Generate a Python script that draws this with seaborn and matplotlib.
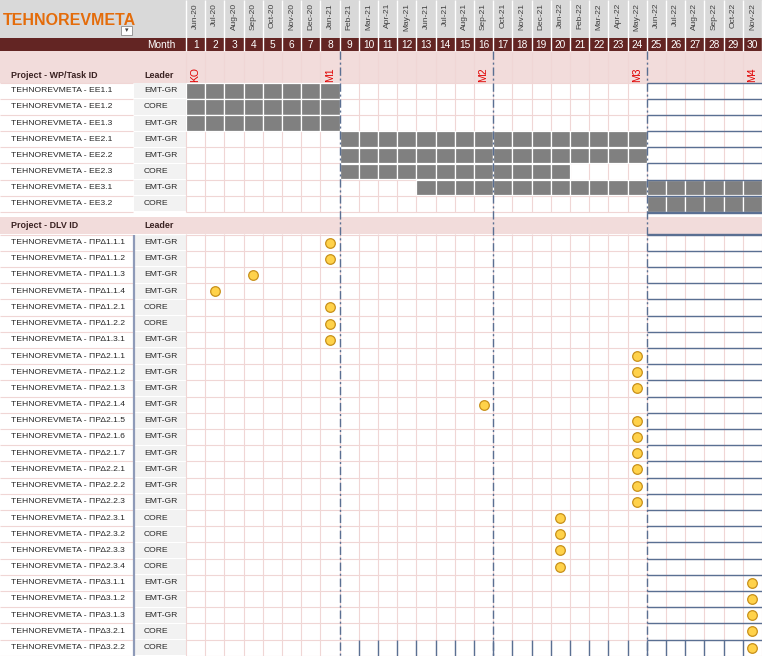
import numpy as np
import pandas as pd
import matplotlib
matplotlib.use("Agg")
import matplotlib.pyplot as plt
from matplotlib.patches import Rectangle
import seaborn as sns

# ---------------- data ----------------
project = "TEHNOREVMETA"
months = ["Jun-20", "Jul-20", "Aug-20", "Sep-20", "Oct-20", "Nov-20", "Dec-20", "Jan-21",
          "Feb-21", "Mar-21", "Apr-21", "May-21", "Jun-21", "Jul-21", "Aug-21", "Sep-21",
          "Oct-21", "Nov-21", "Dec-21", "Jan-22", "Feb-22", "Mar-22", "Apr-22", "May-22",
          "Jun-22", "Jul-22", "Aug-22", "Sep-22", "Oct-22", "Nov-22"]
month_numbers = list(range(1, 31))

wp_ids = ["EE1.1", "EE1.2", "EE1.3", "EE2.1", "EE2.2", "EE2.3", "EE3.1", "EE3.2"]
wp_leaders = ["EMT-GR", "CORE", "EMT-GR", "EMT-GR", "EMT-GR", "CORE", "EMT-GR", "CORE"]
wp_start = [1, 1, 1, 9, 9, 9, 13, 25]
wp_end = [8, 8, 8, 24, 24, 20, 30, 30]

dlv_ids = ["ΠΡΔ1.1.1", "ΠΡΔ1.1.2", "ΠΡΔ1.1.3", "ΠΡΔ1.1.4", "ΠΡΔ1.2.1", "ΠΡΔ1.2.2", "ΠΡΔ1.3.1",
           "ΠΡΔ2.1.1", "ΠΡΔ2.1.2", "ΠΡΔ2.1.3", "ΠΡΔ2.1.4", "ΠΡΔ2.1.5", "ΠΡΔ2.1.6", "ΠΡΔ2.1.7",
           "ΠΡΔ2.2.1", "ΠΡΔ2.2.2", "ΠΡΔ2.2.3", "ΠΡΔ2.3.1", "ΠΡΔ2.3.2", "ΠΡΔ2.3.3", "ΠΡΔ2.3.4",
           "ΠΡΔ3.1.1", "ΠΡΔ3.1.2", "ΠΡΔ3.1.3", "ΠΡΔ3.2.1", "ΠΡΔ3.2.2"]
dlv_leaders = ["EMT-GR", "EMT-GR", "EMT-GR", "EMT-GR", "CORE", "CORE", "EMT-GR",
               "EMT-GR", "EMT-GR", "EMT-GR", "EMT-GR", "EMT-GR", "EMT-GR", "EMT-GR",
               "EMT-GR", "EMT-GR", "EMT-GR", "CORE", "CORE", "CORE", "CORE",
               "EMT-GR", "EMT-GR", "EMT-GR", "CORE", "CORE"]
dlv_month = [8, 8, 4, 2, 8, 8, 8, 24, 24, 24, 16, 24, 24, 24, 24, 24, 24, 20, 20, 20, 20,
             30, 30, 30, 30, 30]

milestones = ["KO", "M1", "M2", "M3", "M4"]
milestone_month = [1, 8, 16, 24, 30]

# ---------------- style / layout ----------------
sns.set_theme(style="white")
FONT = ["Liberation Sans Narrow", "Liberation Sans", "DejaVu Sans"]
plt.rcParams["font.family"] = FONT

W, H = 762, 656
X0, COLW = 186.0, 19.2          # month grid origin / column width (px)
def px(x):                      # pixel -> month axis units
    return (x - X0) / COLW

HDR_GRAY = (0, 37.5)
HDR_DARK = (37.5, 51)
HDR_PINK = (51, 82.7)
WP_TOP, WP_H = 82.7, 16.15
DLVH = (216.8, 233.6)
DLV_TOP, DLV_H = 234.5, 16.2

PINK = "#f2dcdb"
GRIDPINK = "#f0d6d5"
DARK = "#632523"
GRAYHDR = "#d9d9d9"
TXT = "#262626"
BLUE = "#5a6f92"
ROWFS = 6.1

fig = plt.figure(figsize=(W / 100, H / 100), dpi=100)
ax = fig.add_axes([0, 0, 1, 1])
ax.set_xlim(px(0), 30)
ax.set_ylim(H, 0)
ax.axis("off")

def band(x0, x1, y0, y1, color, z=0, **kw):
    ax.add_patch(Rectangle((x0, y0), x1 - x0, y1 - y0, facecolor=color, edgecolor="none", zorder=z, **kw))

L, R = px(0), 30
# header bands
band(L, R, *HDR_GRAY, GRAYHDR)
band(L, R, *HDR_DARK, DARK)
band(L, R, *HDR_PINK, PINK)
band(L, R, *DLVH, PINK)

n_wp, n_dlv = len(wp_ids), len(dlv_ids)
wp_tops = WP_TOP + WP_H * np.arange(n_wp)
dlv_tops = DLV_TOP + DLV_H * np.arange(n_dlv)

# leader column background
for t in wp_tops:
    band(px(134), px(185.5), t + 0.5, t + WP_H - 0.5, "#f2f2f2", z=0.5)
for t in dlv_tops:
    band(px(134), px(185.5), t + 0.5, t + DLV_H - 0.5, "#f2f2f2", z=0.5)

# grid lines (pink)
bounds = np.arange(0, 31)
ax.vlines(bounds, HDR_PINK[0], WP_TOP + n_wp * WP_H, color=GRIDPINK, lw=0.8, zorder=1)
ax.vlines(bounds, DLVH[1], H, color=GRIDPINK, lw=0.8, zorder=1)
wp_b = np.append(wp_tops, wp_tops[-1] + WP_H)
dlv_b = np.append(dlv_tops, dlv_tops[-1] + DLV_H)
ax.hlines(wp_b, px(0), px(133), color=GRIDPINK, lw=0.8, zorder=1)
ax.hlines(wp_b, 0, 30, color=GRIDPINK, lw=0.8, zorder=1)
ax.hlines(dlv_b, px(0), px(133), color=GRIDPINK, lw=0.8, zorder=1)
ax.hlines(dlv_b, 0, 30, color=GRIDPINK, lw=0.8, zorder=1)

# header separators
ax.vlines(bounds, HDR_GRAY[0], HDR_DARK[1], color="white", lw=1.0, zorder=2)

# title
ax.text(px(3), 20.5, project, color="#e46c0a", fontsize=11.5, fontweight="bold",
        ha="left", va="center", zorder=3)
ax.add_patch(Rectangle((px(121), 26), px(132) - px(121), 9, facecolor="white",
                       edgecolor="#8c8c8c", lw=0.6, zorder=3))
ax.text(px(126.5), 30.5, "▾", fontsize=5, ha="center", va="center", color="#404040",
        family=["DejaVu Sans"], zorder=4)

# month labels
for m, lab in zip(month_numbers, months):
    ax.text(m - 0.5, 3, lab, rotation=90, ha="center", va="top", fontsize=6.0,
            color="#404040", zorder=3)
    ax.text(m - 0.5, 44.5, str(m), ha="center", va="center", fontsize=7.3,
            color="white", zorder=3)
ax.text(px(175), 44.5, "Month", ha="right", va="center", fontsize=7.3, color="white", zorder=3)

# section headers
for y, lab in [(75, "Project - WP/Task ID"), ((DLVH[0] + DLVH[1]) / 2, "Project - DLV ID")]:
    ax.text(px(11), y, lab, ha="left", va="center", fontsize=6.4, fontweight="bold",
            color="#3a2222", zorder=3)
    ax.text(px(144), y, "Leader", ha="left", va="center", fontsize=6.4, fontweight="bold",
            color="#3a2222", zorder=3)

# milestone labels
for lab, m in zip(milestones, milestone_month):
    ax.text(m - 0.5, 81.5, lab, rotation=90, ha="center", va="bottom", fontsize=7.5,
            color="#e00000", zorder=3)

# row labels
for t, i, l in zip(wp_tops, wp_ids, wp_leaders):
    ax.text(px(11), t + WP_H / 2, f"{project} - {i}", ha="left", va="center",
            fontsize=ROWFS, color=TXT, zorder=3)
    ax.text(px(144), t + WP_H / 2, l, ha="left", va="center", fontsize=ROWFS, color=TXT, zorder=3)
for t, i, l in zip(dlv_tops, dlv_ids, dlv_leaders):
    ax.text(px(11), t + DLV_H / 2, f"{project} - {i}", ha="left", va="center",
            fontsize=ROWFS, color=TXT, zorder=3)
    ax.text(px(144), t + DLV_H / 2, l, ha="left", va="center", fontsize=ROWFS, color=TXT, zorder=3)

# gantt cells
cells = pd.DataFrame([(wp_tops[k] + WP_H / 2, m)
                      for k in range(n_wp) for m in range(wp_start[k], wp_end[k] + 1)],
                     columns=["y", "month"])
ax.barh(cells["y"], width=1, left=cells["month"] - 1, height=WP_H - 0.6,
        color="#808080", edgecolor="white", linewidth=0.9, zorder=2)

# right-hand blue row borders (months 25-30)
last = milestone_month[-2]
ax.hlines(np.append(wp_b, DLVH[0] - 4.2), last, 30, color=BLUE, lw=1.0, zorder=2.5)
ax.hlines(np.append(dlv_b[:-1], DLVH[1]), last, 30, color=BLUE, lw=1.0, zorder=2.5)
# bottom row vertical borders
ax.vlines(np.arange(9, 30), dlv_tops[-1], H, color=BLUE, lw=1.0, zorder=2.5)
# leader column left border in DLV section
ax.vlines(px(133.5), DLV_TOP, H, color="#8e9ab8", lw=1.6, zorder=2.5)

# milestone dash-dot lines
ax.vlines(milestone_month[1:-1], HDR_PINK[0], H, color=BLUE, lw=1.0,
          linestyles=(0, (6, 2, 1.5, 2)), zorder=2.6)

# deliverable markers
dlv_df = pd.DataFrame({"x": np.array(dlv_month) - 0.5, "y": dlv_tops + DLV_H / 2})
sns.scatterplot(data=dlv_df, x="x", y="y", ax=ax, s=48, color="#ffd24a",
                edgecolor="#c8901a", linewidth=0.9, zorder=4, legend=False)
ax.set_xlim(px(0), 30)
ax.set_ylim(H, 0)
ax.axis("off")

fig.savefig("out.png", dpi=100)
